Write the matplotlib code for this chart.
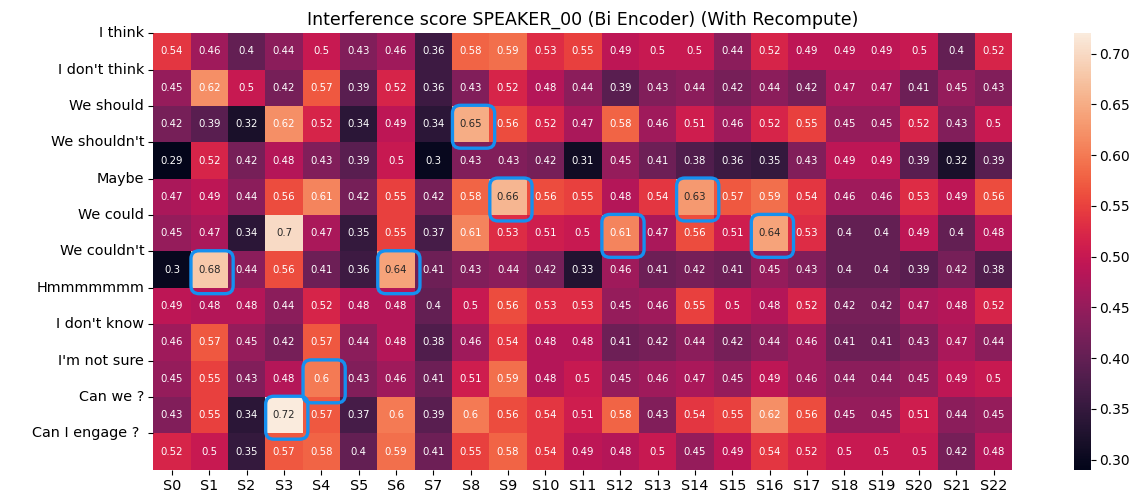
import numpy as np
import matplotlib
matplotlib.use('Agg')
import matplotlib.pyplot as plt
import seaborn as sns
from matplotlib.patches import FancyBboxPatch

phrases = ["I think", "I don't think", "We should", "We shouldn't", "Maybe",
           "We could", "We couldn't", "Hmmmmmmm", "I don't know",
           "I'm not sure", "Can we ?", "Can I engage ? "]
speakers = ["S%d" % i for i in range(23)]

scores = np.array([
    [0.54, 0.46, 0.4, 0.44, 0.5, 0.43, 0.46, 0.36, 0.58, 0.59, 0.53, 0.55, 0.49, 0.5, 0.5, 0.44, 0.52, 0.49, 0.49, 0.49, 0.5, 0.4, 0.52],
    [0.45, 0.62, 0.5, 0.42, 0.57, 0.39, 0.52, 0.36, 0.43, 0.52, 0.48, 0.44, 0.39, 0.43, 0.44, 0.42, 0.44, 0.42, 0.47, 0.47, 0.41, 0.45, 0.43],
    [0.42, 0.39, 0.32, 0.62, 0.52, 0.34, 0.49, 0.34, 0.65, 0.56, 0.52, 0.47, 0.58, 0.46, 0.51, 0.46, 0.52, 0.55, 0.45, 0.45, 0.52, 0.43, 0.5],
    [0.29, 0.52, 0.42, 0.48, 0.43, 0.39, 0.5, 0.3, 0.43, 0.43, 0.42, 0.31, 0.45, 0.41, 0.38, 0.36, 0.35, 0.43, 0.49, 0.49, 0.39, 0.32, 0.39],
    [0.47, 0.49, 0.44, 0.56, 0.61, 0.42, 0.55, 0.42, 0.58, 0.66, 0.56, 0.55, 0.48, 0.54, 0.63, 0.57, 0.59, 0.54, 0.46, 0.46, 0.53, 0.49, 0.56],
    [0.45, 0.47, 0.34, 0.7, 0.47, 0.35, 0.55, 0.37, 0.61, 0.53, 0.51, 0.5, 0.61, 0.47, 0.56, 0.51, 0.64, 0.53, 0.4, 0.4, 0.49, 0.4, 0.48],
    [0.3, 0.68, 0.44, 0.56, 0.41, 0.36, 0.64, 0.41, 0.43, 0.44, 0.42, 0.33, 0.46, 0.41, 0.42, 0.41, 0.45, 0.43, 0.4, 0.4, 0.39, 0.42, 0.38],
    [0.49, 0.48, 0.48, 0.44, 0.52, 0.48, 0.48, 0.4, 0.5, 0.56, 0.53, 0.53, 0.45, 0.46, 0.55, 0.5, 0.48, 0.52, 0.42, 0.42, 0.47, 0.48, 0.52],
    [0.46, 0.57, 0.45, 0.42, 0.57, 0.44, 0.48, 0.38, 0.46, 0.54, 0.48, 0.48, 0.41, 0.42, 0.44, 0.42, 0.44, 0.46, 0.41, 0.41, 0.43, 0.47, 0.44],
    [0.45, 0.55, 0.43, 0.48, 0.6, 0.43, 0.46, 0.41, 0.51, 0.59, 0.48, 0.5, 0.45, 0.46, 0.47, 0.45, 0.49, 0.46, 0.44, 0.44, 0.45, 0.49, 0.5],
    [0.43, 0.55, 0.34, 0.72, 0.57, 0.37, 0.6, 0.39, 0.6, 0.56, 0.54, 0.51, 0.58, 0.43, 0.54, 0.55, 0.62, 0.56, 0.45, 0.45, 0.51, 0.44, 0.45],
    [0.52, 0.5, 0.35, 0.57, 0.58, 0.4, 0.59, 0.41, 0.55, 0.58, 0.54, 0.49, 0.48, 0.5, 0.45, 0.49, 0.54, 0.52, 0.5, 0.5, 0.5, 0.42, 0.48],
])

# (row, col) of the highlighted cells
picked = [(2, 8), (4, 9), (4, 14), (5, 12), (5, 16), (6, 1), (6, 6), (9, 4), (10, 3)]

fig = plt.figure(figsize=(11.35, 5.04), dpi=100)
ax = fig.add_axes([0.135, 0.068, 0.757, 0.866])
cax = fig.add_axes([0.946, 0.068, 0.015, 0.866])

sns.heatmap(scores, ax=ax, cbar_ax=cax, annot=True, fmt='.2g',
            annot_kws={'fontsize': 7.3}, xticklabels=speakers)
ax.set_yticks(np.arange(len(phrases)))
ax.set_yticklabels(phrases, rotation=0, fontsize=10.4)
ax.tick_params(axis='x', labelsize=10.4, rotation=0)
ax.tick_params(axis='y', pad=3)
cax.tick_params(labelsize=10, pad=2.5)
ax.set_title('Interference score SPEAKER_00 (Bi Encoder) (With Recompute)', fontsize=12.5)

# highlight boxes sit a bit right/below the cell, like the original
for r, c in picked:
    box = FancyBboxPatch((c + 0.01, r - 0.02), 1.13, 1.18,
                         boxstyle='round,pad=0,rounding_size=0.22',
                         fill=False, edgecolor='#1590f0', linewidth=2.4, zorder=5,
                         clip_on=False)
    ax.add_patch(box)

fig.savefig('out.png', dpi=100)
